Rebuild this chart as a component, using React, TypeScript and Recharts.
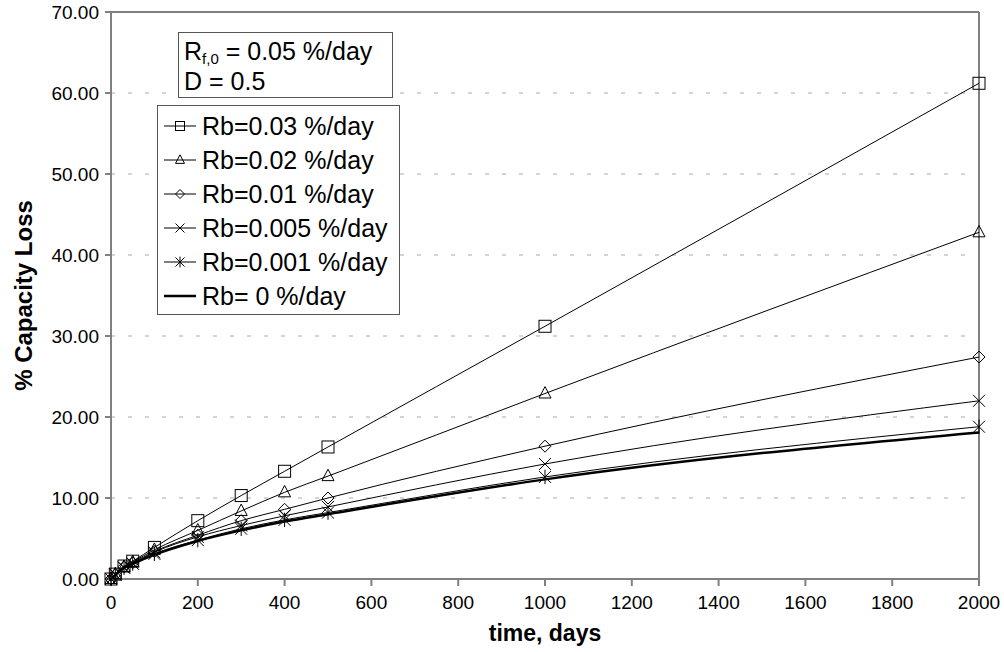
import React from 'react';
import { LineChart, Line, XAxis, YAxis, CartesianGrid, ReferenceLine, Label } from 'recharts';

const days = [0, 10, 30, 50, 100, 200, 300, 400, 500, 1000, 2000];
const rb003 = [0, 0.6, 1.6, 2.2, 3.9, 7.2, 10.3, 13.3, 16.3, 31.2, 61.2];
const rb002 = [0, 0.6, 1.5, 2.1, 3.6, 6.0, 8.4, 10.7, 12.7, 22.9, 42.8];
const rb001 = [0, 0.55, 1.5, 2.0, 3.4, 5.4, 7.2, 8.6, 10.0, 16.4, 27.4];
const rb0005 = [0, 0.55, 1.4, 1.9, 3.3, 5.2, 6.6, 7.8, 8.9, 14.2, 22.0];
const rb0001 = [0, 0.55, 1.4, 1.9, 3.1, 4.8, 6.2, 7.3, 8.2, 12.6, 18.8];
const rb0 = [0, 0.5, 1.35, 1.85, 3.0, 4.7, 6.0, 7.1, 8.0, 12.3, 18.1];

const xTicks = [0, 200, 400, 600, 800, 1000, 1200, 1400, 1600, 1800, 2000];
const yTicks = [0, 10, 20, 30, 40, 50, 60, 70];

type Shape = 'square' | 'triangle' | 'diamond' | 'x' | 'star' | 'none';

const series: { key: string; name: string; shape: Shape; width: number }[] = [
  { key: 'r003', name: 'Rb=0.03 %/day', shape: 'square', width: 1 },
  { key: 'r002', name: 'Rb=0.02 %/day', shape: 'triangle', width: 1 },
  { key: 'r001', name: 'Rb=0.01 %/day', shape: 'diamond', width: 1 },
  { key: 'r0005', name: 'Rb=0.005 %/day', shape: 'x', width: 1 },
  { key: 'r0001', name: 'Rb=0.001 %/day', shape: 'star', width: 1 },
  { key: 'r0', name: 'Rb= 0 %/day', shape: 'none', width: 2.5 },
];

const data = days.map((d, i) => ({
  day: d,
  r003: rb003[i],
  r002: rb002[i],
  r001: rb001[i],
  r0005: rb0005[i],
  r0001: rb0001[i],
  r0: rb0[i],
}));

const INK = '#000';
const AXIS = '#808080';
const FONT = '"Liberation Sans", Arial, sans-serif';

function Marker({ cx, cy, shape, r }: { cx: number; cy: number; shape: Shape; r: number }) {
  if (cx == null || cy == null) return null;
  const p = { stroke: INK, strokeWidth: 1, fill: 'none' };
  switch (shape) {
    case 'square':
      return <rect x={cx - r} y={cy - r} width={2 * r} height={2 * r} {...p} />;
    case 'triangle':
      return <polygon points={`${cx},${cy - r * 1.15} ${cx + r},${cy + r * 0.75} ${cx - r},${cy + r * 0.75}`} {...p} />;
    case 'diamond':
      return <polygon points={`${cx},${cy - r} ${cx + r},${cy} ${cx},${cy + r} ${cx - r},${cy}`} {...p} />;
    case 'x':
      return (
        <g {...p}>
          <line x1={cx - r} y1={cy - r} x2={cx + r} y2={cy + r} />
          <line x1={cx - r} y1={cy + r} x2={cx + r} y2={cy - r} />
        </g>
      );
    case 'star':
      return (
        <g {...p}>
          <line x1={cx - r} y1={cy - r} x2={cx + r} y2={cy + r} />
          <line x1={cx - r} y1={cy + r} x2={cx + r} y2={cy - r} />
          <line x1={cx} y1={cy - r * 1.2} x2={cx} y2={cy + r * 1.2} />
        </g>
      );
    default:
      return null;
  }
}

function LegendRow({ name, shape, width }: { name: string; shape: Shape; width: number }) {
  return (
    <div style={{ display: 'flex', alignItems: 'center', height: 34 }}>
      <svg width={38} height={20} style={{ flex: 'none' }}>
        <line x1={4} y1={10} x2={36} y2={10} stroke={INK} strokeWidth={width} />
        <Marker cx={20} cy={10} shape={shape} r={4.5} />
      </svg>
      <span style={{ marginLeft: 4 }}>{name}</span>
    </div>
  );
}

export default function App() {
  return (
    <div style={{ position: 'fixed', left: 0, top: 0, width: 1004, height: 652, background: '#fff', fontFamily: FONT }}>
      <LineChart width={1004} height={652} data={data} margin={{ top: 12, right: 25, left: 11, bottom: 13 }}>
        <CartesianGrid horizontal vertical={false} stroke="#aaa" strokeDasharray="4 13" />
        <XAxis
          dataKey="day"
          type="number"
          domain={[0, 2000]}
          ticks={xTicks}
          height={60}
          stroke={AXIS}
          strokeWidth={2}
          tickSize={7}
          tick={{ fill: INK, fontSize: 19, fontFamily: FONT }}
          tickMargin={10}
        >
          <Label value="time, days" position="insideBottom" offset={-2} style={{ fontSize: 23, fontWeight: 'bold', fill: INK, fontFamily: FONT }} />
        </XAxis>
        <YAxis
          type="number"
          domain={[0, 70]}
          ticks={yTicks}
          width={100}
          stroke={AXIS}
          strokeWidth={2}
          tickSize={6}
          tickMargin={6}
          tick={{ fill: INK, fontSize: 19, fontFamily: FONT }}
          tickFormatter={(v: number) => v.toFixed(2)}
        >
          <Label
            value="% Capacity Loss"
            angle={-90}
            position="insideLeft"
            offset={12}
            style={{ fontSize: 24, fontWeight: 'bold', fill: INK, fontFamily: FONT, textAnchor: 'middle' }}
          />
        </YAxis>
        <ReferenceLine y={70} stroke={AXIS} strokeWidth={2} />
        <ReferenceLine x={2000} stroke={AXIS} strokeWidth={2} />
        {series.map((s) => (
          <Line
            key={s.key}
            dataKey={s.key}
            type="monotone"
            stroke={INK}
            strokeWidth={s.width}
            isAnimationActive={false}
            dot={(props: any) => (
              <Marker key={`${s.key}-${props.index}`} cx={props.cx} cy={props.cy} shape={s.shape} r={6} />
            )}
            activeDot={false}
          />
        ))}
      </LineChart>

      <div
        style={{
          position: 'absolute', left: 178, top: 32, width: 208, height: 64,
          border: '1px solid #555', background: '#fff', fontSize: 25, lineHeight: '30px',
          paddingLeft: 5, boxSizing: 'content-box',
        }}
      >
        <div style={{ height: 30, marginTop: 3 }}>
          R<sub style={{ fontSize: 15, lineHeight: 0, verticalAlign: '-4px' }}>f,0</sub> = 0.05 %/day
        </div>
        <div style={{ height: 30 }}>D = 0.5</div>
      </div>

      <div
        style={{
          position: 'absolute', left: 157, top: 105, width: 239, height: 205,
          border: '1px solid #555', background: '#fff', fontSize: 25, paddingTop: 3, paddingLeft: 2,
        }}
      >
        {series.map((s) => (
          <LegendRow key={s.key} name={s.name} shape={s.shape} width={s.width} />
        ))}
      </div>
    </div>
  );
}
